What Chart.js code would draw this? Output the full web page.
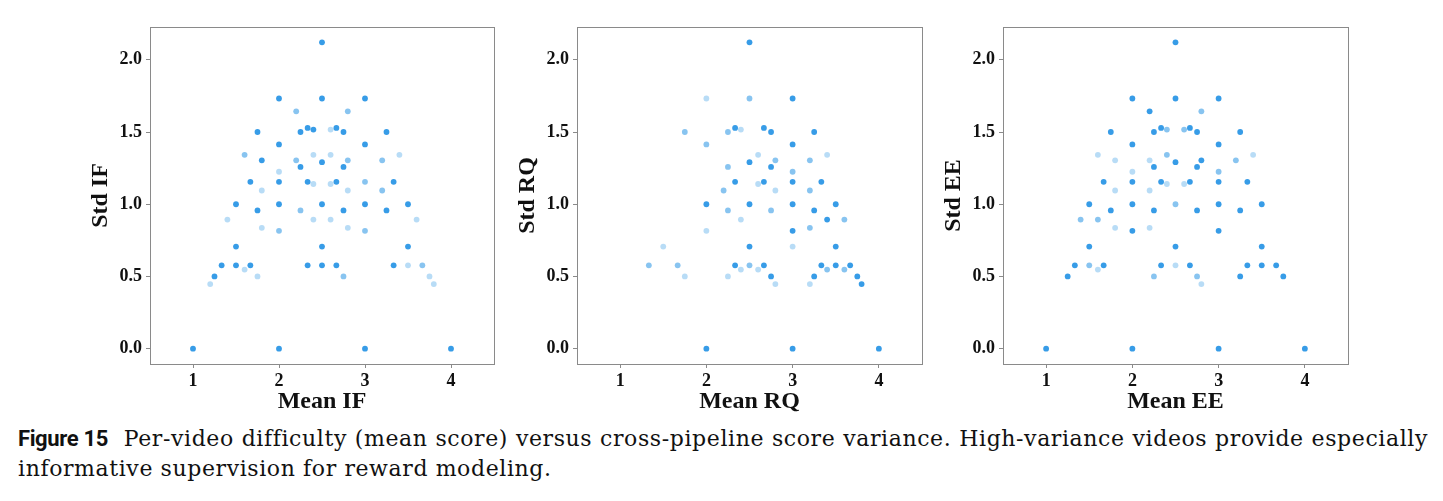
<!DOCTYPE html>
<html>
<head>
<meta charset="utf-8">
<title>Figure 15</title>
<script src="https://cdn.jsdelivr.net/npm/chart.js@4.4.1/dist/chart.umd.min.js"></script>
<style>
  body { margin: 0; width: 1443px; height: 501px; background: #fff; position: relative; overflow: hidden; }
  .panel { position: absolute; top: 0; }
  #caption { position: absolute; left: 18px; top: 424px; width: 1410px; font-family: 'DejaVu Serif', 'Liberation Serif', serif; font-size: 22px; line-height: 30px; color: #111; letter-spacing: 0.6px; }
  #caption .l1 { text-align: justify; text-align-last: justify; white-space: nowrap; }
  #caption b { font-family: Roboto, 'Noto Sans', sans-serif; font-weight: 700; font-size: 22px; letter-spacing: -0.4px; margin-right: 8px; }
</style>
</head>
<body>
<canvas id="chartIF" class="panel" width="440" height="420" style="left:60px"></canvas>
<canvas id="chartRQ" class="panel" width="441" height="420" style="left:487px"></canvas>
<canvas id="chartEE" class="panel" width="441" height="420" style="left:913px"></canvas>
<div id="caption">
  <div class="l1"><b>Figure 15</b> Per-video difficulty (mean score) versus cross-pipeline score variance. High-variance videos provide especially</div>
  <div>informative supervision for reward modeling.</div>
</div>
<script>
// axes
const xTicks = [1, 2, 3, 4];
const yTicks = [0.0, 0.5, 1.0, 1.5, 2.0];
const xRange = [0.5, 4.5];
const yRange = [-0.106, 2.227];

// IF panel: mean score, std, number of videos sharing the point (read from opacity)
const ifMean = [2.5, 2.0, 2.5, 3.0, 2.2, 2.8, 1.75, 2.25, 2.333, 2.4, 2.6, 2.667, 2.75, 3.25, 2.0, 3.0,
  1.6, 2.4, 2.6, 3.4, 1.8, 2.2, 2.5, 2.8, 3.2, 2.0, 2.25, 2.75, 1.667, 2.0, 2.333, 2.4, 2.6, 2.667, 3.0, 3.333,
  1.8, 2.8, 3.2, 1.5, 2.0, 2.5, 3.0, 3.5, 1.75, 2.25, 2.75, 3.25, 1.4, 2.4, 2.6, 3.6, 1.8, 2.8, 2.0, 3.0,
  1.5, 2.5, 3.5, 1.333, 1.5, 1.667, 2.333, 2.5, 2.667, 3.333, 3.5, 3.667, 1.6, 1.25, 1.75, 2.75, 3.75,
  1.2, 3.8, 1.0, 2.0, 3.0, 4.0];
const ifStd = [2.121, 1.732, 1.732, 1.732, 1.643, 1.643, 1.5, 1.5, 1.528, 1.517, 1.517, 1.528, 1.5, 1.5, 1.414, 1.414,
  1.342, 1.342, 1.342, 1.342, 1.304, 1.304, 1.291, 1.304, 1.304, 1.225, 1.258, 1.258, 1.155, 1.155, 1.155, 1.140, 1.140, 1.155, 1.155, 1.155,
  1.095, 1.095, 1.095, 1.0, 1.0, 1.0, 1.0, 1.0, 0.957, 0.957, 0.957, 0.957, 0.894, 0.894, 0.894, 0.894, 0.837, 0.837, 0.816, 0.816,
  0.707, 0.707, 0.707, 0.577, 0.577, 0.577, 0.577, 0.577, 0.577, 0.577, 0.577, 0.577, 0.548, 0.5, 0.5, 0.5, 0.5,
  0.447, 0.447, 0, 0, 0, 0];
const ifCount = [6, 6, 6, 6, 2, 2, 6, 6, 6, 6, 1, 6, 6, 6, 6, 6,
  2, 1, 1, 1, 6, 2, 6, 2, 2, 1, 6, 6, 6, 6, 6, 1, 1, 6, 2, 6,
  1, 1, 2, 6, 6, 6, 6, 6, 6, 2, 6, 6, 1, 1, 1, 1, 1, 1, 2, 2,
  6, 6, 6, 6, 6, 6, 6, 6, 6, 6, 1, 2, 1, 6, 1, 2, 1,
  1, 1, 6, 6, 6, 6];

// RQ panel
const rqMean = [2.5, 2.0, 2.5, 3.0, 1.75, 2.25, 2.333, 2.4, 2.667, 2.75, 3.25, 2.0, 3.0, 2.6, 3.4, 2.5, 2.8, 3.2,
  2.25, 2.75, 3.0, 2.333, 2.667, 3.0, 3.333, 2.6, 2.2, 2.8, 3.2, 2.0, 2.5, 3.0, 3.5, 2.25, 2.75, 3.25,
  2.4, 3.4, 3.6, 3.2, 2.0, 3.0, 1.5, 2.5, 3.0, 3.5, 1.333, 1.667, 2.333, 2.5, 2.667, 3.333, 3.5, 3.667,
  2.4, 2.6, 3.4, 3.6, 1.75, 2.25, 2.75, 3.25, 3.75, 2.8, 3.2, 3.8, 2.0, 3.0, 4.0];
const rqStd = [2.121, 1.732, 1.732, 1.732, 1.5, 1.5, 1.528, 1.517, 1.528, 1.5, 1.5, 1.414, 1.414, 1.342, 1.342, 1.291, 1.304, 1.304,
  1.258, 1.258, 1.225, 1.155, 1.155, 1.155, 1.155, 1.140, 1.095, 1.095, 1.095, 1.0, 1.0, 1.0, 1.0, 0.957, 0.957, 0.957,
  0.894, 0.894, 0.894, 0.837, 0.816, 0.816, 0.707, 0.707, 0.707, 0.707, 0.577, 0.577, 0.577, 0.577, 0.577, 0.577, 0.577, 0.577,
  0.548, 0.548, 0.548, 0.548, 0.5, 0.5, 0.5, 0.5, 0.5, 0.447, 0.447, 0.447, 0, 0, 0];
const rqCount = [6, 1, 2, 6, 2, 2, 6, 1, 6, 6, 6, 2, 6, 1, 1, 6, 2, 2,
  2, 6, 2, 6, 6, 6, 6, 1, 2, 1, 2, 6, 6, 6, 6, 2, 2, 6,
  1, 6, 2, 2, 1, 6, 1, 6, 1, 6, 2, 2, 6, 2, 6, 6, 6, 6,
  1, 1, 2, 2, 1, 1, 6, 6, 6, 1, 1, 6, 6, 6, 6];

// EE panel
const eeMean = [2.5, 2.0, 2.5, 3.0, 2.2, 2.8, 1.75, 2.25, 2.333, 2.4, 2.6, 2.667, 2.75, 3.25, 2.0, 3.0,
  1.6, 2.4, 3.4, 1.8, 2.2, 2.5, 2.8, 3.2, 2.0, 2.25, 2.75, 3.0, 1.667, 2.0, 2.333, 2.4, 2.6, 2.667, 3.0, 3.333,
  1.8, 2.2, 1.5, 2.0, 2.5, 3.0, 3.5, 1.75, 2.25, 2.75, 3.25, 1.4, 1.6, 1.8, 2.2, 2.0, 3.0,
  1.5, 2.5, 3.5, 1.333, 1.5, 1.667, 2.333, 2.5, 2.667, 3.333, 3.5, 3.667, 1.6, 1.25, 2.25, 2.75, 3.25, 3.75,
  2.8, 1.0, 2.0, 3.0, 4.0];
const eeStd = [2.121, 1.732, 1.732, 1.732, 1.643, 1.643, 1.5, 1.5, 1.528, 1.517, 1.517, 1.528, 1.5, 1.5, 1.414, 1.414,
  1.342, 1.342, 1.342, 1.304, 1.304, 1.291, 1.304, 1.304, 1.225, 1.258, 1.258, 1.225, 1.155, 1.155, 1.155, 1.140, 1.140, 1.155, 1.155, 1.155,
  1.095, 1.095, 1.0, 1.0, 1.0, 1.0, 1.0, 0.957, 0.957, 0.957, 0.957, 0.894, 0.894, 0.837, 0.837, 0.816, 0.816,
  0.707, 0.707, 0.707, 0.577, 0.577, 0.577, 0.577, 0.577, 0.577, 0.577, 0.577, 0.577, 0.548, 0.5, 0.5, 0.5, 0.5, 0.5,
  0.447, 0, 0, 0, 0];
const eeCount = [6, 6, 6, 6, 6, 2, 6, 6, 6, 2, 2, 6, 6, 6, 6, 6,
  1, 2, 1, 1, 1, 6, 6, 2, 1, 6, 6, 2, 6, 6, 6, 1, 1, 6, 6, 6,
  1, 1, 6, 6, 2, 6, 6, 6, 6, 6, 6, 2, 2, 1, 1, 6, 6,
  6, 6, 6, 6, 2, 6, 6, 1, 6, 6, 6, 6, 1, 6, 2, 2, 6, 6,
  1, 6, 6, 6, 6];

const AXIS_FONT = "'Liberation Serif', 'Times New Roman', serif";
const POINT_ALPHA = 0.32;

document.addEventListener('DOMContentLoaded', function() {
    buildPanel('chartIF', 'Mean IF', 'Std IF', ifMean, ifStd, ifCount);
    buildPanel('chartRQ', 'Mean RQ', 'Std RQ', rqMean, rqStd, rqCount);
    buildPanel('chartEE', 'Mean EE', 'Std EE', eeMean, eeStd, eeCount);
});

// overlapping semi-transparent markers, like a scatter with alpha
function pointColor(n) {
    const a = 1 - Math.pow(1 - POINT_ALPHA, n);
    return 'rgba(33, 145, 228, ' + a.toFixed(3) + ')';
}

// full frame round the plot area
const frameBox = {
    id: 'frameBox',
    afterDraw(chart) {
        const { ctx, chartArea: a } = chart;
        ctx.save();
        ctx.strokeStyle = '#8a8a8a';
        ctx.lineWidth = 1;
        ctx.strokeRect(Math.round(a.left) + 0.5, Math.round(a.top) + 0.5,
            Math.round(a.right - a.left), Math.round(a.bottom - a.top));
        ctx.restore();
    }
};

function buildPanel(id, xLabel, yLabel, means, stds, counts) {
    const points = means.map((m, i) => ({ x: m, y: stds[i] }));

    new Chart(document.getElementById(id), {
        type: 'scatter',
        data: {
            datasets: [{
                data: points,
                backgroundColor: counts.map(pointColor),
                borderWidth: 0,
                pointRadius: 2.9,
                pointHoverRadius: 2.9
            }]
        },
        options: {
            responsive: false,
            animation: false,
            devicePixelRatio: 1,
            layout: { padding: { top: 27, right: 6, left: 0, bottom: 0 } },
            plugins: { legend: { display: false }, tooltip: { enabled: false } },
            scales: {
                x: {
                    type: 'linear',
                    min: xRange[0],
                    max: xRange[1],
                    afterBuildTicks: s => { s.ticks = xTicks.map(v => ({ value: v })); },
                    afterFit: s => { s.height = 56; },
                    border: { display: false },
                    grid: { drawOnChartArea: false, drawTicks: true, tickLength: 4, color: '#8a8a8a' },
                    ticks: {
                        padding: 3,
                        color: '#111',
                        font: { family: AXIS_FONT, size: 18, weight: 'bold' },
                        callback: v => String(v)
                    },
                    title: {
                        display: true,
                        text: xLabel,
                        color: '#111',
                        padding: { top: 0, bottom: 4 },
                        font: { family: AXIS_FONT, size: 24, weight: 'bold' }
                    }
                },
                y: {
                    type: 'linear',
                    min: yRange[0],
                    max: yRange[1],
                    afterBuildTicks: s => { s.ticks = yTicks.map(v => ({ value: v })); },
                    afterFit: s => { s.width = 90; },
                    border: { display: false },
                    grid: { drawOnChartArea: false, drawTicks: true, tickLength: 4, color: '#8a8a8a' },
                    ticks: {
                        padding: 4,
                        color: '#111',
                        font: { family: AXIS_FONT, size: 18, weight: 'bold' },
                        callback: v => v.toFixed(1)
                    },
                    title: {
                        display: true,
                        text: yLabel,
                        color: '#111',
                        padding: { top: 26, bottom: 0 },
                        font: { family: AXIS_FONT, size: 24, weight: 'bold' }
                    }
                }
            }
        },
        plugins: [frameBox]
    });
}
</script>
</body>
</html>
